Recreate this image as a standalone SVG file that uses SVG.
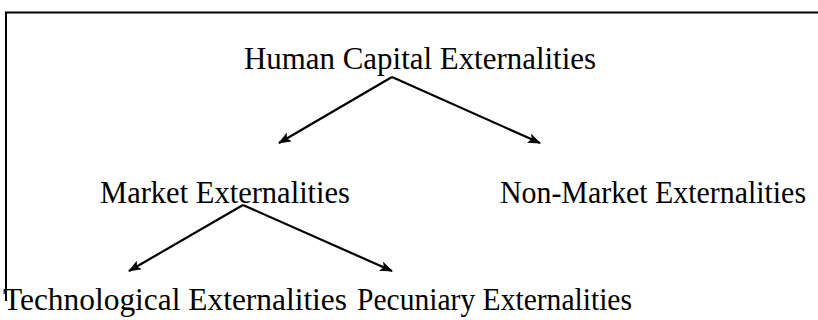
<svg xmlns="http://www.w3.org/2000/svg" width="818" height="320" viewBox="0 0 818 320">
<style>
  text { font-family: "Liberation Serif", "Times New Roman", serif; font-size: 32px; fill: #000; }
  .frame { stroke: #000; stroke-width: 2; fill: none; }
  .edge { stroke: #000; stroke-width: 2.2; fill: none; marker-end: url(#arrow); }
</style>
<defs>
  <marker id="arrow" markerWidth="13" markerHeight="10" refX="12" refY="5" orient="auto" markerUnits="userSpaceOnUse">
    <path d="M0,0 L13,5 L0,10 L3,5 Z" fill="#000"/>
  </marker>
</defs>
<rect width="818" height="320" fill="#fff"/>
<path class="frame" d="M6,301 L6,12.5 L818,12.5"/>
<g id="connectors">
  <path class="edge" d="M392,77 L279,143"/>
  <path class="edge" d="M392,77 L540,143"/>
  <path class="edge" d="M243,205 L129,271"/>
  <path class="edge" d="M243,205 L392,271"/>
</g>
<g id="n-human"><text x="244" y="69" textLength="352" lengthAdjust="spacingAndGlyphs">Human Capital Externalities</text></g>
<g id="n-market"><text x="100" y="203" textLength="250" lengthAdjust="spacingAndGlyphs">Market Externalities</text></g>
<g id="n-nonmarket"><text x="500" y="203" textLength="306" lengthAdjust="spacingAndGlyphs">Non-Market Externalities</text></g>
<g id="n-tech"><text x="3" y="310" textLength="344" lengthAdjust="spacingAndGlyphs">Technological Externalities</text></g>
<g id="n-pecuniary"><text x="357" y="310" textLength="275" lengthAdjust="spacingAndGlyphs">Pecuniary Externalities</text></g>
</svg>
